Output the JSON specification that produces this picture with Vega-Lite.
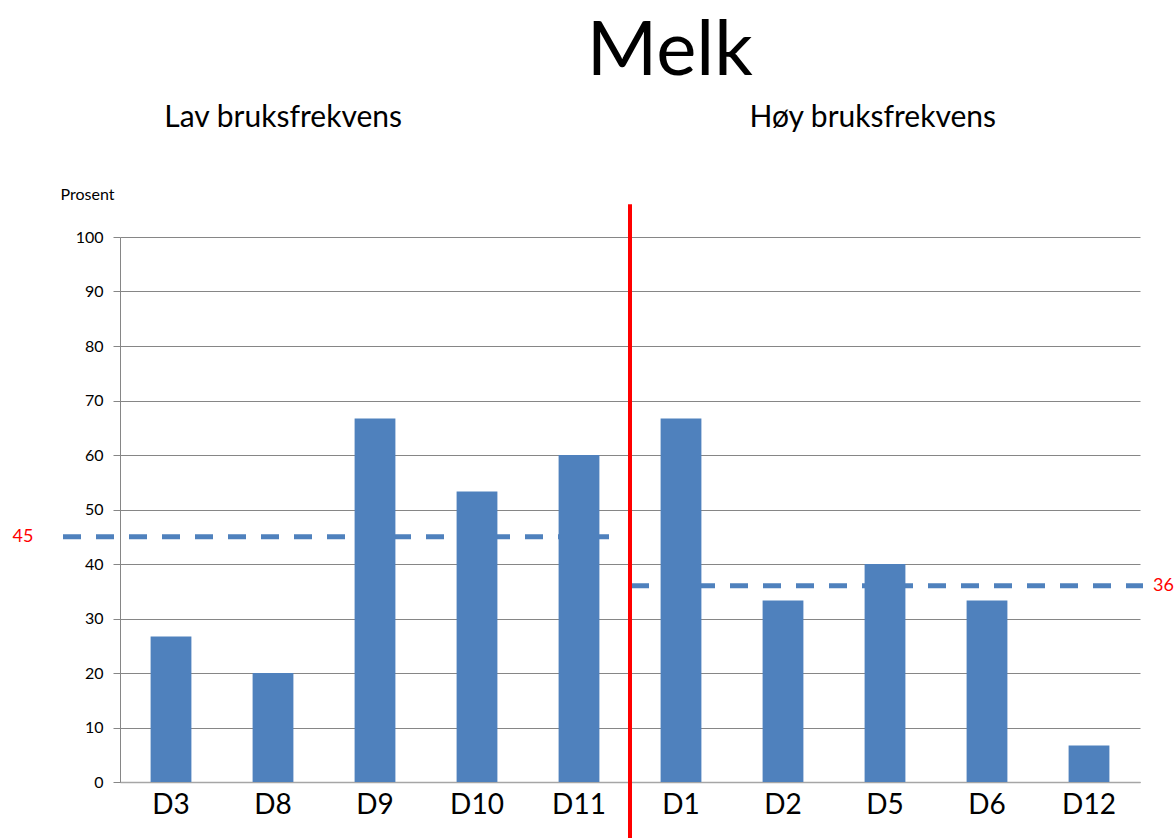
{
  "$schema": "https://vega.github.io/schema/vega-lite/v6.json",
  "autosize": "none",
  "width": 1020,
  "height": 545,
  "padding": {"left": 120, "top": 237, "right": 36, "bottom": 56},
  "background": "white",
  "config": {
    "font": "Lato",
    "view": {"stroke": null}
  },
  "datasets": {
    "andel": [
      {"kategori": "D3", "gruppe": "Lav bruksfrekvens", "prosent": 26.7},
      {"kategori": "D8", "gruppe": "Lav bruksfrekvens", "prosent": 20.0},
      {"kategori": "D9", "gruppe": "Lav bruksfrekvens", "prosent": 66.7},
      {"kategori": "D10", "gruppe": "Lav bruksfrekvens", "prosent": 53.3},
      {"kategori": "D11", "gruppe": "Lav bruksfrekvens", "prosent": 60.0},
      {"kategori": "D1", "gruppe": "Høy bruksfrekvens", "prosent": 66.7},
      {"kategori": "D2", "gruppe": "Høy bruksfrekvens", "prosent": 33.3},
      {"kategori": "D5", "gruppe": "Høy bruksfrekvens", "prosent": 40.0},
      {"kategori": "D6", "gruppe": "Høy bruksfrekvens", "prosent": 33.3},
      {"kategori": "D12", "gruppe": "Høy bruksfrekvens", "prosent": 6.7}
    ],
    "snitt": [
      {"gruppe": "Lav bruksfrekvens", "snitt": 45, "fra": 0, "til": 5, "midt": 1.6},
      {"gruppe": "Høy bruksfrekvens", "snitt": 36, "fra": 5, "til": 10, "midt": 7.38}
    ],
    "tittel": [
      {"tekst": "Melk", "x": 5.39, "skille": 5}
    ]
  },
  "resolve": {"scale": {"x": "independent"}},
  "layer": [
    {
      "data": {"name": "snitt"},
      "transform": [{"filter": "datum.gruppe === 'Lav bruksfrekvens'"}],
      "mark": {"type": "rule", "color": "#4F81BD", "strokeWidth": 5, "strokeDash": [18, 15], "xOffset": -57, "x2Offset": -8},
      "encoding": {
        "x": {"field": "fra", "type": "quantitative", "scale": {"domain": [0, 10], "nice": false}, "axis": null},
        "x2": {"field": "til"},
        "y": {"field": "snitt", "type": "quantitative", "scale": {"domain": [0, 100], "nice": false}}
      }
    },
    {
      "data": {"name": "snitt"},
      "transform": [{"filter": "datum.gruppe === 'Høy bruksfrekvens'"}],
      "mark": {"type": "rule", "color": "#4F81BD", "strokeWidth": 5, "strokeDash": [18, 15], "xOffset": 1, "x2Offset": 3},
      "encoding": {
        "x": {"field": "fra", "type": "quantitative", "scale": {"domain": [0, 10], "nice": false}, "axis": null},
        "x2": {"field": "til"},
        "y": {"field": "snitt", "type": "quantitative"}
      }
    },
    {
      "data": {"name": "andel"},
      "mark": {"type": "bar", "color": "#4F81BD"},
      "encoding": {
        "x": {
          "field": "kategori",
          "type": "nominal",
          "sort": null,
          "scale": {"paddingInner": 0.6, "paddingOuter": 0.3},
          "axis": {
            "title": null,
            "labelAngle": 0,
            "labelFontSize": 28,
            "labelColor": "#000000",
            "labelPadding": 9,
            "ticks": false,
            "domainColor": "#a6a6a6",
            "domainWidth": 1.5,
            "grid": false
          }
        },
        "y": {
          "field": "prosent",
          "type": "quantitative",
          "scale": {"domain": [0, 100], "nice": false},
          "axis": {
            "title": "Prosent",
            "titleAngle": 0,
            "titleX": -60,
            "titleY": -38,
            "titleAlign": "left",
            "titleBaseline": "alphabetic",
            "titleFontSize": 16,
            "titleFontWeight": "normal",
            "titleColor": "#000000",
            "values": [0, 10, 20, 30, 40, 50, 60, 70, 80, 90, 100],
            "labelFontSize": 16,
            "labelColor": "#000000",
            "labelPadding": 10,
            "tickSize": 7,
            "tickColor": "#868686",
            "domainColor": "#868686",
            "gridColor": "#868686",
            "gridWidth": 1,
            "grid": true
          }
        }
      }
    },
    {
      "data": {"name": "snitt"},
      "transform": [{"filter": "datum.gruppe === 'Lav bruksfrekvens'"}],
      "mark": {"type": "text", "color": "#FF0000", "fontSize": 18, "align": "center", "baseline": "middle", "dx": -97},
      "encoding": {
        "x": {"field": "fra", "type": "quantitative", "scale": {"domain": [0, 10], "nice": false}, "axis": null},
        "y": {"field": "snitt", "type": "quantitative"},
        "text": {"field": "snitt", "type": "quantitative"}
      }
    },
    {
      "data": {"name": "snitt"},
      "transform": [{"filter": "datum.gruppe === 'Høy bruksfrekvens'"}],
      "mark": {"type": "text", "color": "#FF0000", "fontSize": 18, "align": "left", "baseline": "middle", "dx": 13},
      "encoding": {
        "x": {"field": "til", "type": "quantitative", "scale": {"domain": [0, 10], "nice": false}, "axis": null},
        "y": {"field": "snitt", "type": "quantitative"},
        "text": {"field": "snitt", "type": "quantitative"}
      }
    },
    {
      "data": {"name": "snitt"},
      "mark": {"type": "text", "color": "#000000", "fontSize": 30, "align": "center", "baseline": "alphabetic"},
      "encoding": {
        "x": {"field": "midt", "type": "quantitative", "scale": {"domain": [0, 10], "nice": false}, "axis": null},
        "y": {"datum": 120.2},
        "text": {"field": "gruppe", "type": "nominal"}
      }
    },
    {
      "data": {"name": "tittel"},
      "mark": {"type": "text", "color": "#000000", "fontSize": 76, "align": "center", "baseline": "alphabetic"},
      "encoding": {
        "x": {"field": "x", "type": "quantitative", "scale": {"domain": [0, 10], "nice": false}, "axis": null},
        "y": {"datum": 129.7},
        "text": {"field": "tekst", "type": "nominal"}
      }
    },
    {
      "data": {"name": "tittel"},
      "mark": {"type": "rule", "color": "#FF0000", "strokeWidth": 4},
      "encoding": {
        "x": {"field": "skille", "type": "quantitative", "scale": {"domain": [0, 10], "nice": false}, "axis": null},
        "y": {"datum": 106},
        "y2": {"datum": -10.5}
      }
    }
  ]
}
